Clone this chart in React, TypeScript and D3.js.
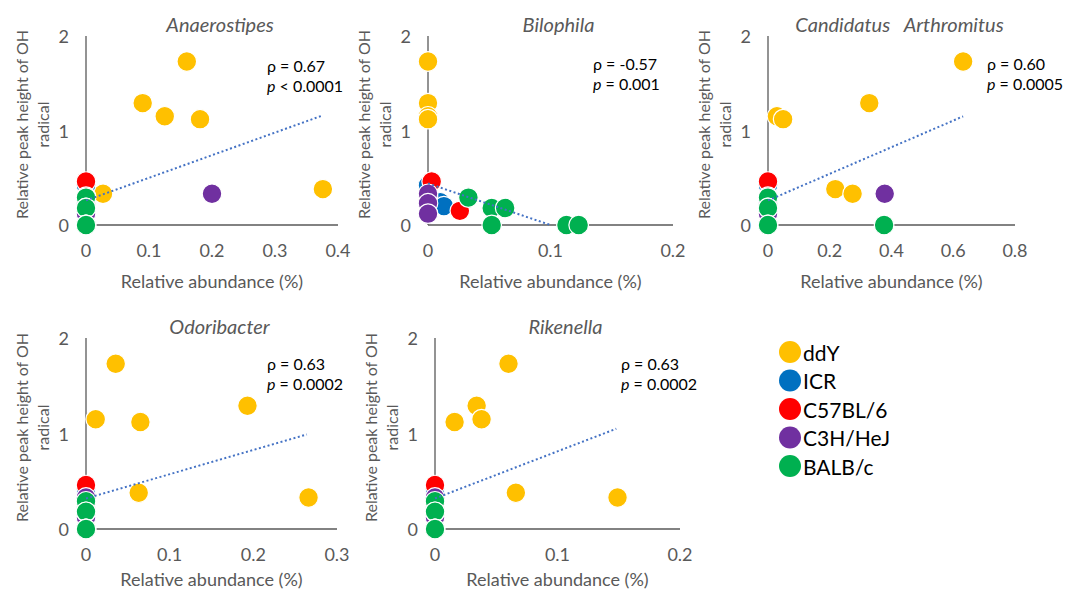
import React from "react";
import * as d3 from "d3";

// strains and colours (legend order = draw order)
const strains = ["ddY", "ICR", "C57BL/6", "C3H/HeJ", "BALB/c"];
const strainColors = ["#FFC000", "#0070C0", "#FF0000", "#7030A0", "#00B050"];

// one entry per mouse: strain index and relative OH radical peak height
const mouseStrain = [0, 0, 0, 0, 0, 0, 1, 1, 1, 2, 2, 2, 3, 3, 3, 4, 4, 4, 4, 4, 4];
const ohHeight = [1.73, 1.29, 1.15, 1.12, 0.38, 0.33, 0.42, 0.24, 0.2, 0.46, 0.3, 0.15, 0.33, 0.23, 0.12, 0.29, 0.18, 0.18, 0, 0, 0];

// relative abundance (%) per mouse, same order as above
const anaerostipesX = [0.16, 0.09, 0.125, 0.181, 0.376, 0.027, 0, 0, 0, 0, 0, 0, 0.2, 0, 0, 0, 0, 0, 0, 0, 0];
const bilophilaX = [0, 0, 0, 0, 0, 0, 0, 0.01, 0.013, 0.003, 0, 0.026, 0, 0, 0, 0.033, 0.052, 0.063, 0.052, 0.113, 0.123];
const arthromitusX = [0.632, 0.328, 0.029, 0.049, 0.218, 0.274, 0, 0, 0, 0, 0, 0, 0.378, 0, 0, 0, 0, 0, 0.376, 0, 0];
const odoribacterX = [0.0355, 0.193, 0.0116, 0.065, 0.063, 0.266, 0, 0, 0, 0, 0, 0, 0, 0, 0, 0, 0, 0, 0, 0, 0];
const rikenellaX = [0.06, 0.034, 0.038, 0.016, 0.066, 0.149, 0, 0, 0, 0, 0, 0, 0, 0, 0, 0, 0, 0, 0, 0, 0];

// linear trend endpoints [x, y]
const anaerostipesTrend = [[0, 0.26], [0.376, 1.16]];
const bilophilaTrend = [[0, 0.44], [0.1, 0]];
const arthromitusTrend = [[0, 0.26], [0.632, 1.15]];
const odoribacterTrend = [[0, 0.32], [0.264, 0.99]];
const rikenellaTrend = [[0, 0.32], [0.148, 1.05]];

const yTicks = [0, 1, 2];

const panels = [
  { title: "Anaerostipes", xs: anaerostipesX, trend: anaerostipesTrend, xMax: 0.4, xTicks: [0, 0.1, 0.2, 0.3, 0.4], rho: "ρ = 0.67", pOp: " < 0.0001", box: [86, 338, 36, 225], stat: [267, 65] },
  { title: "Bilophila", xs: bilophilaX, trend: bilophilaTrend, xMax: 0.2, xTicks: [0, 0.1, 0.2], rho: "ρ = -0.57", pOp: " = 0.001", box: [428, 673, 36, 225], stat: [593, 63] },
  { title: "Candidatus\u00a0\u00a0\u00a0Arthromitus", xs: arthromitusX, trend: arthromitusTrend, xMax: 0.8, xTicks: [0, 0.2, 0.4, 0.6, 0.8], rho: "ρ = 0.60", pOp: " = 0.0005", box: [768, 1015, 36, 225], stat: [987, 63] },
  { title: "Odoribacter", xs: odoribacterX, trend: odoribacterTrend, xMax: 0.3, xTicks: [0, 0.1, 0.2, 0.3], rho: "ρ = 0.63", pOp: " = 0.0002", box: [86, 337, 338, 529], stat: [267, 363] },
  { title: "Rikenella", xs: rikenellaX, trend: rikenellaTrend, xMax: 0.2, xTicks: [0, 0.1, 0.2], rho: "ρ = 0.63", pOp: " = 0.0002", box: [435, 680, 338, 529], stat: [621, 363] },
];

const FONT = "Lato, 'Open Sans', sans-serif";
const GREY = "#595959";

const Panel = ({ p, titleGap }: { p: (typeof panels)[number]; titleGap: number }) => {
  const [left, right, top, bottom] = p.box;
  const x = d3.scaleLinear().domain([0, p.xMax]).range([left, right]);
  const y = d3.scaleLinear().domain([0, 2]).range([bottom, top]);
  const line = d3.line<number[]>().x((d) => x(d[0])).y((d) => y(d[1]));
  const cy = (top + bottom) / 2 - 6;

  // draw by strain so BALB/c ends up on top
  const order = d3.range(ohHeight.length).sort((a, b) => mouseStrain[a] - mouseStrain[b]);

  return (
    <g fontFamily={FONT}>
      <text x={(left + right) / 2 + 8} y={top - 12} textAnchor="middle" dominantBaseline="central" fontSize={20} fontStyle="italic" fill={GREY}>
        {p.title}
      </text>
      {/* axes */}
      <line x1={left} x2={left} y1={top} y2={bottom} stroke={GREY} strokeWidth={1.3} />
      <line x1={left} x2={right} y1={bottom} y2={bottom} stroke={GREY} strokeWidth={1.3} />
      {yTicks.map((t) => (
        <text key={t} x={left - 17} y={y(t)} textAnchor="end" dominantBaseline="central" fontSize={18} fill={GREY}>
          {t}
        </text>
      ))}
      {p.xTicks.map((t) => (
        <text key={t} x={x(t)} y={bottom + 25} textAnchor="middle" dominantBaseline="central" fontSize={18} fill={GREY}>
          {t === 0 ? "0" : d3.format(".1f")(t)}
        </text>
      ))}
      <text x={(left + right) / 2} y={bottom + titleGap} textAnchor="middle" dominantBaseline="central" fontSize={18} fill={GREY}>
        Relative abundance (%)
      </text>
      <text transform={`translate(${left - 65},${cy}) rotate(-90)`} textAnchor="middle" dominantBaseline="central" fontSize={16} fill={GREY}>
        Relative peak height of OH
      </text>
      <text transform={`translate(${left - 44},${cy}) rotate(-90)`} textAnchor="middle" dominantBaseline="central" fontSize={16} fill={GREY}>
        radical
      </text>
      {/* points */}
      {order.map((i) => (
        <circle key={i} cx={x(p.xs[i])} cy={y(ohHeight[i])} r={9.8} fill={strainColors[mouseStrain[i]]} stroke="#fff" strokeWidth={1.2} />
      ))}
      <path d={line(p.trend) || ""} fill="none" stroke="#4472C4" strokeWidth={2} strokeDasharray="2 2.5" />
      <text x={p.stat[0]} y={p.stat[1]} dominantBaseline="central" fontSize={16} fill="#000">
        {p.rho}
      </text>
      <text x={p.stat[0]} y={p.stat[1] + 20} dominantBaseline="central" fontSize={16} fill="#000">
        <tspan fontStyle="italic">p</tspan>
        {p.pOp}
      </text>
    </g>
  );
};

export default function App() {
  return (
    <svg width={1067} height={593} style={{ position: "absolute", left: 0, top: 0, background: "#fff" }}>
      {panels.map((p, i) => (
        <Panel key={p.title} p={p} titleGap={i < 3 ? 56 : 50} />
      ))}
      <g fontFamily={FONT}>
        {strains.map((s, i) => (
          <g key={s} transform={`translate(790,${352 + i * 28.5})`}>
            <circle r={11} fill={strainColors[i]} />
            <text x={13} dominantBaseline="central" fontSize={21} fill="#000">
              {s}
            </text>
          </g>
        ))}
      </g>
    </svg>
  );
}
